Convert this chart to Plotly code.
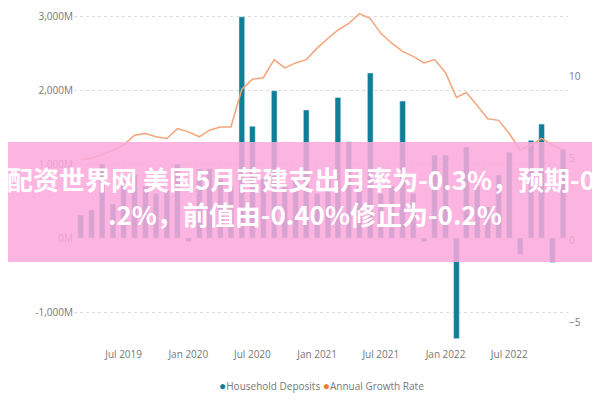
import pandas as pd
import plotly.graph_objects as go

months = pd.date_range("2019-03-01", periods=46, freq="MS")
deposits = [310, 380, 1000, 460, 760, 850, 700, 600, 650, 1000, -50, 930,
            940, 800, 700, 2990, 1510, 800, 1990, 700, 800, 1730, 600, 800,
            1900, 1300, 700, 2230, 600, 700, 1850, 600, -50, 1120, 1120, -1360,
            1230, 710, 420, 850, 1160, -220, 1320, 1540, -330, 1200]
growth = [4.9, 5.0, 5.2, 5.5, 5.8, 6.4, 6.5, 6.3, 6.2, 6.8, 6.6, 6.3,
          6.7, 6.9, 6.9, 9.2, 9.8, 9.9, 11.0, 10.5, 10.8, 11.0, 11.7, 12.3,
          12.8, 13.2, 13.8, 13.5, 12.6, 12.0, 11.5, 11.2, 10.8, 11.0, 10.2, 8.7,
          9.0, 8.2, 7.4, 7.3, 6.5, 5.5, 5.8, 6.2, 5.8, 5.5]
series_names = ["Household Deposits", "Annual Growth Rate"]
headline1 = "配资世界网 美国5月营建支出月率为-0.3%，预期-0"
headline2 = ".2%，前值由-0.40%修正为-0.2%"

teal = "#0f7f97"
orange = "#f2a57a"
fig = go.Figure()
fig.add_bar(x=months, y=deposits, name=series_names[0], marker_color=teal)
fig.add_scatter(x=months, y=growth, name=series_names[1], yaxis="y2",
                mode="lines", line=dict(color=orange, width=1.5))

fig.update_layout(
    width=600, height=400, margin=dict(l=66, r=40, t=4, b=61, autoexpand=False),
    plot_bgcolor="white", paper_bgcolor="white",
    font=dict(family="Open Sans", size=10, color="#777"),
    bargap=0.42, showlegend=False,
    xaxis=dict(type="date", tickformat="%b %Y", dtick="M6", tick0="2019-07-01",
               range=["2019-02-10", "2022-12-15"], showgrid=False, showline=False,
               ticks="", tickfont=dict(size=10, color="#777")),
    yaxis=dict(range=[-1473, 3054], tickvals=[-1000, 0, 1000, 2000, 3000],
               ticktext=["-1,000M", "0M", "1,000M", "2,000M", "3,000M"],
               showgrid=True, gridcolor="#ddd", griddash="dot", zeroline=False,
               tickfont=dict(size=10, color="#777")),
    yaxis2=dict(range=[-6.5, 13.9], overlaying="y", side="right",
                tickvals=[-5, 0, 5, 10], showgrid=False, zeroline=False,
                title=dict(text="Rate", font=dict(size=9, color="#999"), standoff=10),
                tickfont=dict(size=10, color="#777")),
)
fig.add_annotation(
    text=(f"<span style='color:{teal};font-size:12px'>●</span>{series_names[0]} "
          f"<span style='color:#f07f2a;font-size:12px'>●</span>{series_names[1]}"),
    xref="paper", yref="paper", x=0.5, y=-0.115, yanchor="middle",
    showarrow=False, font=dict(size=10, color="#777"))
fig.add_shape(type="rect", xref="paper", yref="paper",
              x0=-0.15, x1=1.09, y0=0.254, y1=0.612,
              fillcolor="rgba(252,168,218,0.85)", line_width=0, layer="above")
for txt, y, x in [(headline1, 0.503, 0.46), (headline2, 0.398, 0.468)]:
    fig.add_annotation(text=f"<b>{txt}</b>", xref="paper", yref="paper",
                       x=x, y=y, showarrow=False,
                       font=dict(family="Noto Sans CJK SC", size=26, color="white"))
fig.write_html("out.html")
